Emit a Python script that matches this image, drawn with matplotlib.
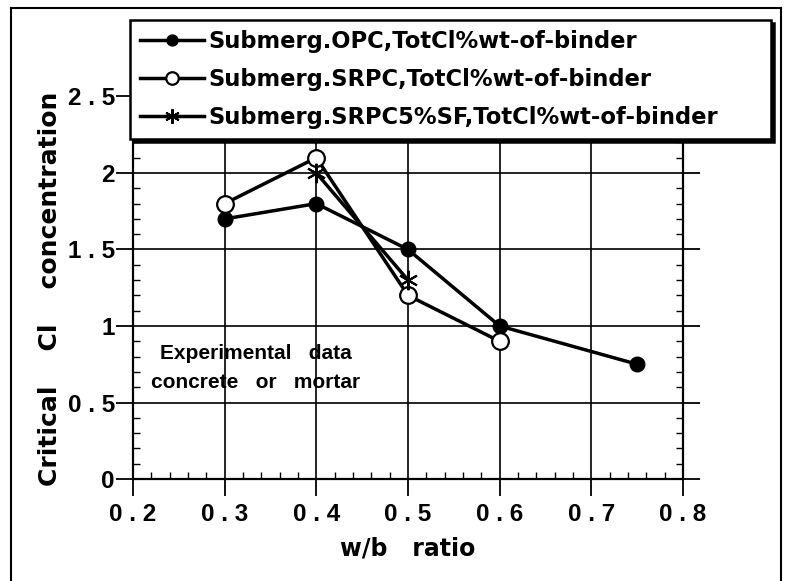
import matplotlib
matplotlib.use("Agg")
import matplotlib.pyplot as plt
from matplotlib.lines import Line2D
from matplotlib.ticker import MultipleLocator

# Data
opc_x = [0.3, 0.4, 0.5, 0.6, 0.75]
opc_y = [1.7, 1.8, 1.5, 1.0, 0.75]
srpc_x = [0.3, 0.4, 0.5, 0.6]
srpc_y = [1.8, 2.1, 1.2, 0.9]
sf_x = [0.4, 0.5]
sf_y = [2.0, 1.3]
labels = ["Submerg.OPC,TotCl%wt-of-binder",
          "Submerg.SRPC,TotCl%wt-of-binder",
          "Submerg.SRPC5%SF,TotCl%wt-of-binder"]
xticks = [0.2, 0.3, 0.4, 0.5, 0.6, 0.7, 0.8]
xticklabels = ["0 . 2", "0 . 3", "0 . 4", "0 . 5", "0 . 6", "0 . 7", "0 . 8"]
yticks = [0, 0.5, 1, 1.5, 2, 2.5]
yticklabels = ["0", "0 . 5", "1", "1 . 5", "2", "2 . 5"]

plt.rcParams['font.family'] = ['Liberation Sans', 'DejaVu Sans']
plt.rcParams['font.weight'] = 'bold'
WIDE = ['DejaVu Sans']

W, H = 785, 581
fig = plt.figure(figsize=(W/100, H/100), dpi=100)
ax = fig.add_axes([133/W, (H-479)/H, 550/W, 2.9*153/H])
ax.set_xlim(0.2, 0.8)
ax.set_ylim(0, 2.9)

ax.set_xticks(xticks)
ax.set_xticklabels(xticklabels)
ax.set_yticks(yticks)
ax.set_yticklabels(yticklabels)
ax.xaxis.set_minor_locator(MultipleLocator(0.02))
ax.yaxis.set_minor_locator(MultipleLocator(0.1))
ax.tick_params(which='major', direction='out', length=12, width=1.3,
               labelsize=17.5, right=True, top=False, pad=1)
ax.tick_params(axis='x', which='major', pad=5)
ax.tick_params(which='minor', direction='in', length=5, width=1.0,
               right=True, top=False)
ax.grid(True, which='major', color='black', linewidth=1.2)
for s in ax.spines.values():
    s.set_linewidth(1.6)

l1, = ax.plot(opc_x, opc_y, color='black', lw=2.5, marker='o', ms=10.5,
              mfc='black', mec='black', zorder=3)
l2, = ax.plot(srpc_x, srpc_y, color='black', lw=2.5, marker='o', ms=12,
              mfc='white', mec='black', mew=1.6, zorder=3)
l3, = ax.plot(sf_x, sf_y, color='black', lw=2.5, marker=(6, 2, 0), ms=14,
              mec='black', mew=1.5, zorder=3)

ax.text(0.334, 0.82, "Experimental   data", ha='center', va='center',
        fontsize=15, fontweight='bold')
ax.text(0.334, 0.63, "concrete   or   mortar", ha='center', va='center',
        fontsize=15, fontweight='bold')

ax.set_xlabel("w/b   ratio", fontsize=17, fontweight='bold', labelpad=8,
              family=WIDE)
ax.set_ylabel("Critical    Cl    concentration", fontsize=18,
              fontweight='bold', family=WIDE)
ax.yaxis.set_label_coords(-0.129, (479-289)/(2.9*153))

leg = ax.legend([l1, l2, l3], labels, loc='upper left',
                bbox_to_anchor=(130/W, (H-20)/H - 0.01, 641/W, 0.01),
                bbox_transform=fig.transFigure, mode='expand',
                borderaxespad=0, handlelength=2.8, markerscale=0.75,
                handletextpad=0.2, labelspacing=0.66, borderpad=0.45,
                fancybox=False, shadow={'color': 'black', 'alpha': 1},
                framealpha=1, edgecolor='black',
                prop={'family': WIDE, 'size': 16.3, 'weight': 'bold'})
leg.get_frame().set_linewidth(1.8)
leg.set_zorder(10)

# outer frame
fig.add_artist(Line2D([11/W, 11/W], [0, (H-8)/H], color='black', lw=1.5,
                      transform=fig.transFigure))
fig.add_artist(Line2D([11/W, 781/W], [(H-8)/H, (H-8)/H], color='black', lw=1.5,
                      transform=fig.transFigure))
fig.add_artist(Line2D([781/W, 781/W], [0, (H-8)/H], color='black', lw=1.5,
                      transform=fig.transFigure))

fig.savefig("out.png", dpi=100)
